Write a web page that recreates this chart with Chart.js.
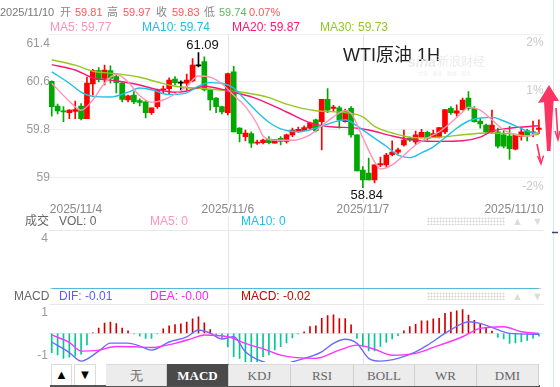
<!DOCTYPE html>
<html>
<head>
<meta charset="utf-8">
<script src="https://cdn.jsdelivr.net/npm/chart.js@4.4.1/dist/chart.umd.min.js"></script>
<style>
  html, body { margin:0; padding:0; background:#fff; }
  body { width:560px; height:387px; position:relative; overflow:hidden; font-family:"Liberation Sans","Noto Sans CJK SC",sans-serif; }
  .t { position:absolute; white-space:nowrap; line-height:1; }
  canvas { position:absolute; left:0; }
  .dots { position:absolute; width:78px; height:8px; background-image:radial-gradient(circle, #d4d4d4 0.9px, transparent 1.1px); background-size:3px 3px; }
  .btn { position:absolute; top:364px; height:22px; border:1px solid #dcdcdc; background:#fff; text-align:center; font-size:13px; line-height:20px; color:#000; box-sizing:border-box; }
  .tab { position:absolute; top:364px; height:22px; background:#ececec; border-right:1px solid #cfcfcf; border-top:1px solid #dadada; box-sizing:border-box; text-align:center; font-family:"Liberation Serif",serif; font-size:13px; line-height:21px; color:#666; }
  .tab.on { background:#4a4a4a; color:#fff; font-weight:bold; border-top-color:#4a4a4a; }
</style>
</head>
<body>
<canvas id="cMain" width="560" height="230" style="top:0"></canvas>
<canvas id="cVol" width="560" height="60" style="top:230px"></canvas>
<canvas id="cMacd" width="560" height="74" style="top:290px"></canvas>

<svg width="560" height="387" style="position:absolute;left:0;top:0;pointer-events:none">
  <line x1="553.5" y1="0" x2="553.5" y2="387" stroke="#d9e6f3" stroke-width="1"/>
  <line x1="552" y1="232.5" x2="558" y2="232.5" stroke="#33448a" stroke-width="1.5"/>
  <path d="M549,85 L559,101 L553.5,101 L550.5,151 L547,151 L544,102 L538,103 Z" fill="#fa3562"/>
  <path d="M537,144 L541,163" stroke="#fa3562" stroke-width="1.6" fill="none"/>
  <path d="M537.5,156 L541,164 L543.5,155.5" stroke="#fa3562" stroke-width="1.4" fill="none"/>
  <path d="M556,108 L558,139" stroke="#fa3562" stroke-width="1.6" fill="none"/>
  <path d="M555,131 L558,140 L560,131" stroke="#fa3562" stroke-width="1.4" fill="none"/>
</svg>

<div class="dots" style="left:427px;top:217px"></div>
<div class="dots" style="left:427px;top:292px"></div>

<div class="btn" style="left:51px;width:21px">&#9650;</div>
<div class="btn" style="left:74px;width:22px">&#9660;</div>
<div style="position:absolute;left:50px;top:385px;width:490px;height:2px;background:#555"></div>

<script>
// ---------------- DATA ----------------
const opens  = [60.61,60.20,60.12,60.09,60.11,60.20,59.99,60.57,60.79,60.66,60.79,60.69,60.58,60.30,60.38,60.29,60.27,60.09,60.19,60.47,
                60.49,60.65,60.58,60.58,60.62,60.87,60.94,60.47,60.33,60.19,60.09,60.77,59.83,59.69,59.74,59.58,59.59,59.65,59.58,59.66,
                59.61,59.72,59.79,59.79,59.83,59.97,59.94,60.31,60.16,60.17,59.94,60.16,59.72,59.13,59.08,58.97,59.22,59.22,59.39,59.43,
                59.55,59.66,59.60,59.69,59.76,59.69,59.69,59.77,60.16,60.08,60.14,60.33,60.16,59.95,59.88,59.77,59.77,59.72,59.70,59.48,
                59.69,59.79,59.75,59.81];
const highs  = [60.62,60.23,60.19,60.14,60.28,60.24,60.68,60.81,60.84,60.88,60.87,60.74,60.59,60.38,60.44,60.32,60.29,60.17,60.48,60.53,
                60.67,60.69,60.62,60.73,60.99,61.09,61.02,60.48,60.34,60.20,60.75,60.86,59.84,59.80,59.77,59.63,59.65,59.69,59.64,59.69,
                59.73,59.83,59.85,59.87,59.93,59.98,60.31,60.49,60.21,60.20,60.15,60.19,59.72,59.19,59.33,59.22,59.35,59.41,59.62,59.50,
                59.80,59.68,59.78,59.81,59.78,59.80,59.84,60.14,60.19,60.22,60.33,60.44,60.19,59.99,59.90,60.13,59.83,59.80,59.86,59.73,
                59.84,59.81,59.95,59.97];
const lows   = [60.03,60.07,59.94,59.99,59.99,59.97,59.99,60.38,60.60,60.55,60.58,60.42,60.27,60.27,60.24,60.20,60.00,60.06,60.16,60.41,
                60.40,60.55,60.47,60.47,60.60,60.85,60.45,60.13,60.09,60.07,60.05,59.77,59.60,59.62,59.51,59.56,59.57,59.57,59.58,59.55,
                59.58,59.69,59.76,59.79,59.82,59.77,59.47,60.09,60.11,59.83,59.93,59.68,59.12,58.84,58.97,58.92,59.19,59.19,59.37,59.40,
                59.53,59.61,59.56,59.67,59.63,59.68,59.67,59.74,60.06,60.03,60.13,60.13,59.93,59.83,59.73,59.74,59.50,59.50,59.31,59.47,
                59.63,59.62,59.69,59.74];
const closes = [60.19,60.12,60.10,60.13,60.14,59.99,60.58,60.79,60.64,60.80,60.66,60.59,60.31,60.37,60.27,60.26,60.09,60.17,60.47,60.48,
                60.63,60.59,60.58,60.63,60.88,60.87,60.47,60.30,60.19,60.10,60.74,59.77,59.74,59.75,59.58,59.60,59.63,59.59,59.64,59.61,
                59.72,59.80,59.81,59.84,59.92,59.79,60.31,60.13,60.18,59.97,60.12,59.72,59.12,58.97,58.97,59.22,59.24,59.38,59.43,59.47,
                59.63,59.63,59.72,59.76,59.66,59.74,59.84,60.14,60.09,60.12,60.30,60.16,59.94,59.90,59.77,59.88,59.53,59.53,59.49,59.72,
                59.77,59.72,59.77,59.83];

// moving averages: [candle index, value]
const ma5  = [[0,60.58],[3,60.28],[5,60.13],[7,60.30],[9,60.58],[11,60.73],[13,60.60],[15,60.37],[17,60.26],[19,60.30],[21,60.40],
              [23,60.53],[25,60.70],[27,60.68],[29,60.57],[31,60.38],[33,60.19],[35,59.90],[36,59.70],[38,59.63],[41,59.63],[44,59.72],
              [46,59.87],[48,60.02],[50,60.12],[51,60.08],[53,59.67],[55,59.27],[56,59.15],[58,59.22],[60,59.38],[62,59.55],[64,59.67],
              [66,59.77],[68,59.92],[70,60.10],[71,60.18],[73,60.13],[75,59.97],[77,59.80],[79,59.72],[81,59.70],[83,59.77]];
const ma10 = [[0,60.77],[3,60.58],[5,60.43],[7,60.36],[10,60.35],[13,60.43],[15,60.50],[17,60.47],[20,60.39],[23,60.42],[25,60.53],
              [27,60.59],[29,60.58],[31,60.50],[33,60.30],[35,60.10],[37,59.93],[39,59.82],[42,59.77],[45,59.83],[48,59.93],[50,59.97],
              [52,59.87],[54,59.73],[57,59.53],[59,59.38],[61,59.34],[63,59.42],[65,59.52],[67,59.67],[69,59.83],[71,59.95],[73,60.00],
              [75,60.01],[77,59.95],[79,59.87],[81,59.78],[83,59.74]];
const ma20 = [[0,60.89],[4,60.80],[7,60.67],[11,60.62],[15,60.55],[18,60.47],[21,60.43],[23,60.45],[26,60.53],[28,60.50],[31,60.43],
              [35,60.32],[40,60.10],[44,59.92],[48,59.85],[51,59.84],[54,59.80],[58,59.70],[62,59.63],[66,59.61],[70,59.62],[73,59.68],
              [75,59.78],[78,59.83],[83,59.87]];
const ma30 = [[0,60.97],[4,60.88],[7,60.78],[11,60.74],[15,60.68],[18,60.60],[21,60.53],[27,60.48],[33,60.42],[37,60.34],[40,60.23],
              [45,60.12],[50,60.09],[53,60.02],[55,59.86],[58,59.75],[62,59.67],[66,59.68],[70,59.72],[74,59.75],[78,59.74],[81,59.70],[83,59.73]];

const maNames    = ['MA5','MA10','MA20','MA30'];
const maHeadVals = [59.77, 59.74, 59.87, 59.73];
const changePct  = 0.07;

// volume panel (all zero in the picture)
const volumes  = closes.map(() => 0);
const volMa5   = [[0,0],[83,0]];
const volMa10  = [[0,0],[83,0]];
const volTicks = [4];

// MACD panel
const macdHist = [-0.85,-0.95,-1.10,-1.05,-1.00,-0.92,-0.51,0.02,0.23,0.45,0.50,0.43,0.23,0.11,-0.02,-0.12,-0.22,-0.22,-0.03,0.20,
                  0.33,0.38,0.42,0.50,0.64,0.73,0.46,0.17,-0.08,-0.22,-0.60,-1.03,-1.10,-1.28,-1.28,-1.25,-1.03,-0.95,-0.73,-0.59,
                  -0.42,-0.20,-0.02,0.07,0.30,0.33,0.66,0.78,0.81,0.65,0.65,0.37,-0.22,-0.58,-0.77,-0.77,-0.57,-0.40,-0.24,-0.10,
                  0.11,0.30,0.40,0.55,0.55,0.64,0.66,0.88,0.93,0.99,1.05,0.80,0.57,0.42,0.23,0.10,-0.18,-0.25,-0.44,-0.42,
                  -0.38,-0.31,-0.22,-0.12];
const dif = [[0,-0.38],[3,-0.85],[5,-1.22],[8,-0.78],[10,-0.43],[13,-0.43],[15,-0.56],[17,-0.74],[20,-0.38],[23,-0.16],[25,0.15],
             [27,0.01],[29,-0.25],[31,-0.15],[33,-0.81],[36,-1.25],[39,-1.35],[42,-1.18],[46,-0.81],[48,-0.44],[50,-0.26],[52,-0.44],
             [54,-1.10],[56,-1.22],[59,-1.10],[62,-0.81],[64,-0.52],[67,0.00],[70,0.44],[71,0.51],[73,0.44],[75,0.26],[78,0.00],[83,-0.04]];
const dea = [[0,-0.07],[3,-0.40],[5,-0.78],[8,-0.74],[11,-0.58],[14,-0.59],[17,-0.62],[21,-0.44],[24,-0.22],[26,-0.07],[30,-0.15],
             [33,-0.44],[37,-0.77],[39,-0.96],[45,-1.10],[49,-0.74],[52,-0.52],[55,-0.70],[58,-0.96],[62,-0.88],[65,-0.62],[70,-0.15],
             [73,0.22],[77,0.29],[80,0.07],[83,0.00]];
const macdHead = {DIF:-0.01, DEA:-0.00, MACD:-0.02};
const macdLabelTicks = [1, -1];

// axes
const priceTicks = [61.4, 60.6, 59.8, 59];
const pctTexts   = ['2%', '1%', '', '-2%'];
const dateText   = ['2025/11/4', '2025/11/6', '2025/11/7', '2025/11/10'];
const dateIdx    = [0, 30, 53, 83];
const tabNames   = ['无', 'MACD', 'KDJ', 'RSI', 'BOLL', 'WR', 'DMI'];

// ---------------- STYLE ----------------
const RED = '#ff0000', GREEN = '#00a800';
const COL = { ma5:'#ff93b6', ma10:'#1ec0e6', ma20:'#ff1475', ma30:'#93c81e',
              dif:'#6b6bff', dea:'#ff33ff', up:'#d00000', down:'#00c896' };
const FONT = '"Liberation Sans","Noto Sans CJK SC",sans-serif';
const PAD_L = 48.8, PAD_R = 16.4;

// ---------------- HTML TEXT ----------------
function T(text, x, cy, size, color, extra) {
  const d = document.createElement('div');
  d.className = 't'; d.textContent = text;
  d.style.left = x + 'px'; d.style.top = (cy - size * 0.5) + 'px';
  d.style.fontSize = size + 'px'; d.style.color = color;
  if (extra) Object.assign(d.style, extra);
  document.body.appendChild(d);
  return d;
}
const L = closes.length - 1;
T('2025/11/10', 0, 12, 11, '#777');
T('开', 60, 12, 11, '#888'); T(opens[L].toFixed(2), 75, 12, 11, '#f55');
T('高', 107, 12, 11, '#888'); T(highs[L].toFixed(2), 123, 12, 11, '#f55');
T('收', 156, 12, 11, '#888'); T(closes[L].toFixed(2), 172, 12, 11, '#f55');
T('低', 204, 12, 11, '#888'); T(lows[L].toFixed(2), 219, 12, 11, '#5cb85c');
T(changePct.toFixed(2) + '%', 249, 12, 11, '#f55');
const maCols = [COL.ma5, COL.ma10, COL.ma20, COL.ma30];
[50, 142, 232, 320].forEach((x, k) => T(maNames[k] + ': ' + maHeadVals[k].toFixed(2), x, 27, 12, maCols[k]));

T('WTI原油 1H', 343, 55, 18, '#222');
T('sina', 408, 62, 14, '#ebebeb', {fontStyle:'italic', fontWeight:'bold'});
T('新浪财经', 437, 62, 12, '#ebebeb');
T('文章 · 股市 · 数据 · 服务', 418, 73, 5, '#eeeeee');

T('成交', 25, 221, 12, '#666');
T('VOL: ' + volumes[L], 59, 221, 12, '#666');
T('MA5: ' + volMa5[volMa5.length-1][1], 150, 221, 12, COL.ma5);
T('MA10: ' + volMa10[volMa10.length-1][1], 241, 221, 12, COL.ma10);
T('▲', 512, 221, 11, '#dcdcdc'); T('▼', 532, 221, 11, '#dcdcdc');

T('MACD', 14, 296, 12, '#666');
T('DIF: ' + macdHead.DIF.toFixed(2), 59, 296, 12, '#5b5bff');
T('DEA: -' + Math.abs(macdHead.DEA).toFixed(2), 150, 296, 12, '#ff22ff');
T('MACD: ' + macdHead.MACD.toFixed(2), 241, 296, 12, '#c80000');
T('▲', 512, 296, 11, '#dcdcdc'); T('▼', 532, 296, 11, '#dcdcdc');

// tabs
const tabEdges = [106, 167, 229, 291, 354, 415, 477, 539];
tabNames.forEach((n, k) => {
  const d = document.createElement('div');
  d.className = 'tab' + (n === 'MACD' ? ' on' : '');
  d.textContent = n;
  d.style.left = tabEdges[k] + 'px';
  d.style.width = (tabEdges[k+1] - tabEdges[k]) + 'px';
  document.body.appendChild(d);
});

// ---------------- CHARTS ----------------
const pts = arr => arr.map(([x, y]) => ({x, y}));
const xScale = () => ({ type:'linear', display:false, offset:false, min:-0.5, max:83.8 });
const idxs = closes.map((_, i) => i);
const candleCol = idxs.map(i => closes[i] > opens[i] ? RED : (closes[i] < opens[i] ? GREEN : '#000'));

const deco = {
  id: 'deco',
  beforeDatasetsDraw(chart, _a, o) {
    const {ctx, chartArea:a} = chart, x = chart.scales.x;
    ctx.save();
    ctx.strokeStyle = '#e6e6e6'; ctx.lineWidth = 1;
    (o.vlines || []).forEach(i => {
      const px = Math.round(x.getPixelForValue(i)) + 0.5;
      ctx.beginPath(); ctx.moveTo(px, o.vFromArea ? a.top : 0); ctx.lineTo(px, chart.height); ctx.stroke();
    });
    ctx.restore();
  },
  afterDraw(chart, _a, o) {
    const {ctx, chartArea:a} = chart, x = chart.scales.x, y = chart.scales.y;
    ctx.save();
    ctx.textBaseline = 'middle';
    ctx.font = '12px ' + FONT;
    ctx.fillStyle = '#999'; ctx.textAlign = 'right';
    (o.yLabels || []).forEach(v => {
      let py = y.getPixelForValue(v);
      if (py < a.top + 8) py = a.top + (o.clampOff || 9);
      ctx.fillText(String(v), a.left + (o.yLabelDx || 0), py);
    });
    if (o.pct) {
      ctx.fillStyle = '#c9c9c9';
      o.pct.values.forEach((v, k) => { const t = o.pct.texts[k]; if (t) ctx.fillText(t, a.right, y.getPixelForValue(v) + 9); });
    }
    if (o.dates) {
      const n = o.dates.idx.length;
      o.dates.idx.forEach((i, k) => {
        const t = o.dates.text[k], w = ctx.measureText(t).width;
        let px = x.getPixelForValue(i), align = 'center', left = px - w / 2;
        if (k === 0) { px = a.left + 1; align = 'left'; left = px; }
        else if (k === n - 1) { px = a.right; align = 'right'; left = px - w; }
        const py = a.bottom + 10;
        ctx.fillStyle = '#fff'; ctx.fillRect(left - 1, py - 7, w + 2, 14);
        ctx.fillStyle = '#888'; ctx.textAlign = align; ctx.fillText(t, px, py);
      });
    }
    if (o.hilo) {
      let hi = 0, lo = 0;
      highs.forEach((v, i) => { if (v > highs[hi]) hi = i; });
      lows.forEach((v, i) => { if (v < lows[lo]) lo = i; });
      ctx.font = '13px ' + FONT; ctx.fillStyle = '#111'; ctx.textAlign = 'center';
      ctx.fillText(highs[hi].toFixed(2), x.getPixelForValue(hi) + 4, y.getPixelForValue(highs[hi]) - 7);
      ctx.fillText(lows[lo].toFixed(2), x.getPixelForValue(lo) + 4, y.getPixelForValue(lows[lo]) + 8);
    }
    ctx.restore();
  }
};

const lineDs = (arr, color, w) => ({ type:'line', data:pts(arr), borderColor:color, borderWidth:w || 1.4,
  pointRadius:0, cubicInterpolationMode:'monotone', fill:false, order:0 });

const common = { responsive:false, animation:false, devicePixelRatio:1, events:[] };

new Chart(document.getElementById('cMain'), {
  data: { datasets: [
    lineDs(ma5, COL.ma5), lineDs(ma10, COL.ma10), lineDs(ma20, COL.ma20), lineDs(ma30, COL.ma30),
    { type:'bar', data: idxs.map(i => ({x:i, y:[opens[i], closes[i]]})), backgroundColor:candleCol,
      barThickness:5, minBarLength:1, grouped:false, order:1 },
    { type:'bar', data: idxs.map(i => ({x:i, y:[lows[i], highs[i]]})), backgroundColor:candleCol,
      barThickness:1, grouped:false, order:2 }
  ]},
  options: { ...common,
    layout: { padding: { left:PAD_L, right:PAD_R, top:34, bottom:30 } },
    scales: {
      x: xScale(),
      y: { min:58.6333, max:61.4, border:{display:false}, grid:{color:'#efefef', drawTicks:false},
           ticks:{display:false}, afterBuildTicks: s => { s.ticks = priceTicks.map(v => ({value:v})); } }
    },
    plugins: { legend:{display:false}, tooltip:{enabled:false},
      deco: { vlines: dateIdx.slice(1, -1), vFromArea:true, yLabels: priceTicks, clampOff:10, yLabelDx:1,
              pct: { values: priceTicks, texts: pctTexts }, dates: { idx: dateIdx, text: dateText }, hilo:true } }
  },
  plugins: [deco]
});

new Chart(document.getElementById('cVol'), {
  data: { datasets: [
    lineDs(volMa10, COL.ma10, 1.6), lineDs(volMa5, COL.ma5, 1.6),
    { type:'bar', data: idxs.map(i => ({x:i, y:volumes[i]})), backgroundColor:candleCol, barThickness:4, grouped:false, order:1 }
  ]},
  options: { ...common,
    layout: { padding: { left:PAD_L, right:PAD_R, top:0, bottom:1 } },
    scales: {
      x: xScale(),
      y: { min:0, max:4, border:{display:false}, grid:{color:'#e8e8e8', drawTicks:false},
           ticks:{display:false}, afterBuildTicks: s => { s.ticks = volTicks.map(v => ({value:v})); } }
    },
    plugins: { legend:{display:false}, tooltip:{enabled:false},
      deco: { vlines: dateIdx.slice(1, -1), yLabels: volTicks, clampOff:9, yLabelDx:-1 } }
  },
  plugins: [deco]
});

new Chart(document.getElementById('cMacd'), {
  data: { datasets: [
    lineDs(dea, COL.dea, 1.4), lineDs(dif, COL.dif, 1.4),
    { type:'bar', data: idxs.map(i => ({x:i, y:macdHist[i]})),
      backgroundColor: macdHist.map(v => v >= 0 ? COL.up : COL.down), barThickness:1, grouped:false, order:1 }
  ]},
  options: { ...common,
    layout: { padding: { left:PAD_L, right:PAD_R, top:14, bottom:2 } },
    scales: {
      x: xScale(),
      y: { min:-1.26, max:1.29, border:{display:false}, grid:{color:'#e8e8e8', drawTicks:false},
           ticks:{display:false}, afterBuildTicks: s => { s.ticks = [1.29, 0].map(v => ({value:v})); } }
    },
    plugins: { legend:{display:false}, tooltip:{enabled:false},
      deco: { vlines: dateIdx.slice(1, -1), yLabels: macdLabelTicks, yLabelDx:-1 } }
  },
  plugins: [deco]
});
</script>
</body>
</html>
